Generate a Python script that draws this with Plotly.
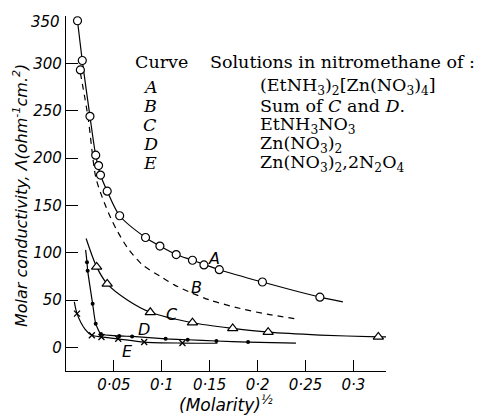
import plotly.graph_objects as go

# ---------------- data ----------------
# Curve A: (EtNH3)2[Zn(NO3)4]  (open circles)
a_x = [0.012, 0.017, 0.015, 0.025, 0.031, 0.034, 0.036, 0.043, 0.056, 0.083,
       0.098, 0.115, 0.132, 0.144, 0.160, 0.205, 0.265]
a_y = [345, 303, 293, 244, 203, 192, 182, 165, 139, 116,
       107, 98, 92, 87, 82, 69, 53]
a_line_x = [0.012, 0.017, 0.025, 0.031, 0.036, 0.043, 0.056, 0.083, 0.098,
            0.115, 0.132, 0.160, 0.205, 0.265, 0.289]
a_line_y = [345, 303, 244, 203, 182, 165, 139, 116, 107,
            98, 92, 82, 69, 53, 48]

# Curve B: sum of C and D (dashed)
b_x = [0.015, 0.023, 0.031, 0.038, 0.047, 0.054, 0.065, 0.080, 0.100,
       0.113, 0.130, 0.150, 0.182, 0.210, 0.241]
b_y = [290, 243, 180, 158, 136, 122, 104, 87, 74,
       66, 58, 50, 41, 35, 30]

# Curve C: EtNH3NO3 (open triangles)
c_x = [0.032, 0.043, 0.088, 0.132, 0.174, 0.211, 0.326]
c_y = [85, 67, 37, 26, 20, 16, 11]
c_line_x = [0.021, 0.032, 0.043, 0.064, 0.088, 0.132, 0.174, 0.211, 0.265, 0.326, 0.338]
c_line_y = [115, 85, 67, 50, 37, 26, 20, 16, 13, 11, 11]

# Curve D: Zn(NO3)2 (small dots)
d_x = [0.0219, 0.0226, 0.0278, 0.031, 0.0365, 0.0555, 0.069, 0.104, 0.127, 0.157, 0.190]
d_y = [90, 81, 46, 25, 14, 12, 11.5, 9, 8, 6.7, 5.6]
d_line_x = [0.0205, 0.0219, 0.0226, 0.0278, 0.031, 0.0365, 0.0555, 0.069,
            0.104, 0.127, 0.157, 0.190, 0.240]
d_line_y = [103, 90, 81, 46, 25, 14, 12, 11.5, 9, 8, 6.7, 5.6, 4.5]

# Curve E: Zn(NO3)2,2N2O4 (crosses)
e_x = [0.0115, 0.027, 0.037, 0.0545, 0.0816, 0.1215]
e_y = [35.6, 12.7, 11, 9, 5.6, 4.5]
e_line_x = [0.0087, 0.0115, 0.020, 0.027, 0.037, 0.0545, 0.0816, 0.1215, 0.158]
e_line_y = [48, 35.6, 19, 12.7, 11, 9, 5.6, 4.5, 4.3]

x_tick_vals = [0.05, 0.1, 0.15, 0.2, 0.25, 0.3]
x_tick_text = ["0·05", "0·1", "0·15", "0·2", "0·25", "0·3"]
y_tick_vals = [0, 50, 100, 150, 200, 250, 300, 350]
y_tick_text = ["0", "50", "100", "150", "200", "250", "300", "350"]

curve_letters = ["A", "B", "C", "D", "E"]
curve_desc = [
    "(EtNH<sub>3</sub>)<sub>2</sub>[Zn(NO<sub>3</sub>)<sub>4</sub>]",
    "Sum of <i>C</i> and <i>D</i>.",
    "EtNH<sub>3</sub>NO<sub>3</sub>",
    "Zn(NO<sub>3</sub>)<sub>2</sub>",
    "Zn(NO<sub>3</sub>)<sub>2</sub>,2N<sub>2</sub>O<sub>4</sub>",
]
# on-curve labels (data coords)
lab_text = ["A", "B", "C", "D", "E"]
lab_x = [0.154, 0.136, 0.111, 0.081, 0.064]
lab_y = [94, 63, 35, 19, -4]

# ---------------- figure ----------------
# the page body has an 8px margin, so the figure is drawn 8px in from the window
OFF = 8
W, H = 496, 409
L, R, T, B = 58, 118, 8, 46
pw, ph = W - L - R, H - T - B


def px(xp, yp):
    """window pixel -> paper coords"""
    xf, yf = xp - OFF, yp - OFF
    return (xf - L) / pw, (H - B - yf) / ph


fig = go.Figure()
lw = 1.2
# lines
fig.add_trace(go.Scatter(x=a_line_x, y=a_line_y, mode="lines",
                         line=dict(color="black", width=lw, shape="spline", smoothing=0.8)))
fig.add_trace(go.Scatter(x=b_x, y=b_y, mode="lines",
                         line=dict(color="black", width=lw, dash="6px,5px", shape="spline", smoothing=0.8)))
fig.add_trace(go.Scatter(x=c_line_x, y=c_line_y, mode="lines",
                         line=dict(color="black", width=lw, shape="spline", smoothing=0.8)))
fig.add_trace(go.Scatter(x=d_line_x, y=d_line_y, mode="lines",
                         line=dict(color="black", width=lw, shape="spline", smoothing=0.5)))
fig.add_trace(go.Scatter(x=e_line_x, y=e_line_y, mode="lines",
                         line=dict(color="black", width=lw, shape="spline", smoothing=0.8)))
# markers
fig.add_trace(go.Scatter(x=a_x, y=a_y, mode="markers",
                         marker=dict(symbol="circle", size=8, color="white",
                                     line=dict(color="black", width=1.2))))
fig.add_trace(go.Scatter(x=c_x, y=c_y, mode="markers",
                         marker=dict(symbol="triangle-up", size=9, color="white",
                                     line=dict(color="black", width=1.2))))
fig.add_trace(go.Scatter(x=d_x, y=d_y, mode="markers",
                         marker=dict(symbol="circle", size=4, color="black")))
fig.add_trace(go.Scatter(x=e_x, y=e_y, mode="markers",
                         marker=dict(symbol="x-thin", size=6,
                                     line=dict(color="black", width=1.3))))

ann = []
sans_it = dict(family="DejaVu Sans", size=16, color="black", style="italic")
for t, x, y in zip(lab_text, lab_x, lab_y):
    ann.append(dict(x=x, y=y, xref="x", yref="y", text=t, showarrow=False,
                    font=sans_it, xanchor="center", yanchor="middle"))

serif = dict(family="DejaVu Serif", size=17.5, color="black")
ser_it = dict(family="DejaVu Serif", size=17.5, color="black", style="italic")
hx, hy = px(133, 62)
ann.append(dict(x=hx, y=hy, xref="paper", yref="paper", text="Curve", showarrow=False,
                font=serif, xanchor="left", yanchor="middle"))
hx, hy = px(208, 62)
ann.append(dict(x=hx, y=hy, xref="paper", yref="paper",
                text="Solutions in nitromethane of :", showarrow=False,
                font=serif, xanchor="left", yanchor="middle"))
row_y = [87, 106, 125, 144, 163]
for letter, desc, yp in zip(curve_letters, curve_desc, row_y):
    lx, ly = px(150, yp)
    ann.append(dict(x=lx, y=ly, xref="paper", yref="paper", text=letter, showarrow=False,
                    font=ser_it, xanchor="center", yanchor="middle"))
    dx, dy = px(258, yp)
    ann.append(dict(x=dx, y=dy, xref="paper", yref="paper", text=desc, showarrow=False,
                    font=serif, xanchor="left", yanchor="middle"))

tickfont = dict(family="DejaVu Sans", size=15, color="black", style="italic")
# top y tick label (drawn as an annotation so that it is not clipped at the edge)
tx, ty = px(62, 22)
ann.append(dict(x=tx, y=ty, xref="paper", yref="paper", text=y_tick_text[-1],
                showarrow=False, font=tickfont, xanchor="right", yanchor="middle"))

# axis titles
tx, ty = px(20, 196)
ann.append(dict(x=tx, y=ty, xref="paper", yref="paper", textangle=-90,
                text="Molar conductivity, Λ(ohm<sup>-1</sup>cm.<sup>2</sup>)",
                showarrow=False, font=sans_it, xanchor="center", yanchor="middle"))
tx, ty = px(226, 404)
ann.append(dict(x=tx, y=ty, xref="paper", yref="paper",
                text="(Molarity)<sup>½</sup>", showarrow=False,
                font=dict(family="DejaVu Sans", size=17, color="black", style="italic"),
                xanchor="center", yanchor="middle"))

fig.update_layout(
    width=W, height=H,
    margin=dict(l=L, r=R, t=T, b=B),
    paper_bgcolor="white", plot_bgcolor="white",
    showlegend=False,
    annotations=ann,
    xaxis=dict(range=[0, 0.334], showgrid=False, zeroline=False,
               showline=True, linecolor="black", linewidth=1.4,
               ticks="inside", ticklen=11, tickwidth=1.3, tickcolor="black",
               tickvals=x_tick_vals, ticktext=x_tick_text, tickfont=tickfont),
    yaxis=dict(range=[-25, 350], showgrid=False, zeroline=False,
               showline=True, linecolor="black", linewidth=1.4,
               ticks="inside", ticklen=12, tickwidth=1.3, tickcolor="black",
               tickvals=y_tick_vals, ticktext=y_tick_text[:-1] + [""],
               tickfont=tickfont),
)

fig.write_html("out.html")
